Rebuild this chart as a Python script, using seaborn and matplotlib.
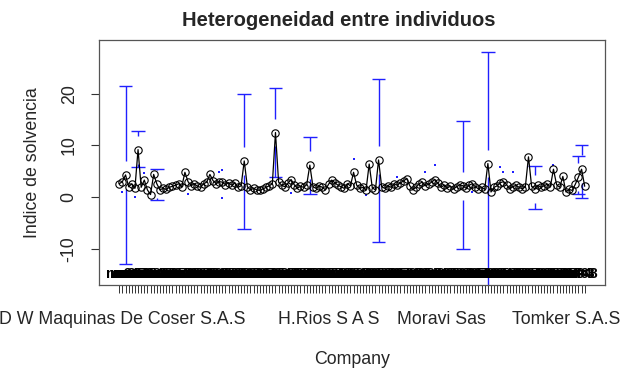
import matplotlib
matplotlib.use("Agg")
import matplotlib.pyplot as plt
import seaborn as sns
import numpy as np
import pandas as pd

# ---- data ----
means = [2.6, 3.0, 4.3, 2.0, 2.6, 1.7, 9.2, 1.9, 3.3, 1.4,
         0.5, 4.4, 2.6, 1.4, 1.7, 1.5, 1.9, 2.1, 2.3, 2.6,
         2.0, 4.8, 3.0, 2.2, 2.6, 2.1, 1.9, 2.6, 2.9, 4.4,
         3.2, 2.6, 3.0, 2.9, 2.4, 2.8, 2.3, 2.7, 1.9, 2.2,
         7.0, 2.0, 1.4, 1.7, 1.4, 1.3, 1.6, 1.9, 2.2, 2.6,
         12.5, 2.9, 2.3, 2.0, 2.7, 3.4, 2.4, 1.7, 2.1, 1.9,
         2.4, 6.2, 2.0, 1.7, 2.2, 1.9, 1.4, 2.5, 3.3, 2.8,
         2.3, 2.0, 1.7, 2.6, 2.2, 4.8, 2.3, 1.7, 1.9, 1.4,
         6.4, 1.8, 1.4, 7.2, 2.0, 1.7, 2.2, 1.9, 2.6, 2.3,
         2.8, 3.1, 3.6, 2.2, 1.4, 1.9, 2.6, 2.9, 2.2, 2.5,
         2.9, 3.4, 2.7, 1.9, 2.3, 1.8, 2.1, 1.6, 2.0, 2.4,
         2.2, 1.7, 2.3, 2.6, 2.0, 1.6, 1.9, 1.5, 6.5, 1.0,
         1.9, 2.2, 2.8, 3.0, 2.4, 1.6, 2.0, 2.3, 1.9, 1.6,
         2.0, 7.8, 2.1, 1.6, 2.3, 1.9, 2.2, 2.5, 2.0, 5.4,
         2.4, 1.9, 4.0, 1.0, 1.5, 1.3, 2.5, 3.9, 5.4, 2.1]

ns = [6, 3, 4, 9, 5, 7, 3, 8, 5, 6, 4, 3, 5, 9, 7, 8, 6, 5, 4, 7,
      8, 3, 5, 6, 9, 7, 8, 5, 6, 3, 4, 7, 8, 5, 6, 9, 7, 5, 8, 6,
      3, 7, 9, 8, 6, 5, 7, 8, 6, 5, 3, 4, 6, 7, 9, 5, 8, 7, 6, 5,
      9, 3, 7, 8, 6, 5, 9, 7, 4, 8, 6, 7, 9, 5, 8, 4, 7, 6, 8, 9,
      3, 5, 9, 3, 7, 8, 6, 9, 5, 7, 6, 8, 4, 7, 9, 6, 5, 8, 4, 7,
      6, 4, 8, 9, 7, 5, 8, 9, 6, 7, 3, 8, 6, 5, 7, 9, 8, 6, 3, 9,
      7, 5, 4, 8, 7, 9, 5, 6, 8, 9, 7, 4, 8, 3, 6, 7, 9, 5, 8, 7,
      6, 8, 5, 4, 7, 9, 6, 4, 3, 8]

ci_group = [3, 7, 13, 41, 51, 62, 84, 111, 119, 134, 148, 149]
ci_lower = [-13.0, 5.9, -0.5, -6.1, 3.8, 0.7, -8.7, -10.1, -32.0, -2.2, 0.6, -0.2]
ci_upper = [21.5, 12.7, 5.5, 19.9, 21.1, 11.6, 22.8, 14.8, 28.0, 6.0, 7.9, 10.1]

dot_group = [2, 9, 6, 33, 34, 34, 23, 76, 80, 90, 99, 56, 102, 123, 127, 124, 140, 114]
dot_value = [1.0, 4.6, 0.1, 4.9, 5.2, -0.2, 0.7, 7.3, 0.4, 3.8, 4.8, 0.8, 6.2, 5.9, 4.8, 4.8, 6.2, 1.0]

label_group = [2, 68, 104, 144]
label_text = ["D W Maquinas De Coser S.A.S", "H.Rios S A S", "Moravi Sas", "Tomker S.A.S"]
yticks = [-10, 0, 10, 20]

title = "Heterogeneidad entre individuos"
xlabel = "Company"
ylabel = "Indice de solvencia"

# ---- styling ----
sns.set_style("ticks")
plt.rcParams['font.family'] = ['Liberation Sans', 'DejaVu Sans']

W, H = 621, 371
fig = plt.figure(figsize=(W / 100, H / 100), dpi=100)
ax = fig.add_axes([99 / W, 1 - 285 / H, 506 / W, 245 / H])

groups = np.arange(1, len(means) + 1)
df = pd.DataFrame({"group": groups, "mean": means, "n": ns})

blue = "#2020ff"
gap = 2.7
cap = 2.2
for g, lo, hi in zip(ci_group, ci_lower, ci_upper):
    m = means[g - 1]
    if hi - m > gap:
        ax.vlines(g, m + gap, hi, color=blue, lw=1.0, zorder=2)
    if m - lo > gap:
        ax.vlines(g, lo, m - gap, color=blue, lw=1.0, zorder=2)
    ax.hlines([lo, hi], g - cap, g + cap, color=blue, lw=1.0, zorder=2)

ax.scatter(dot_group, dot_value, s=1.5, color=blue, marker="s", linewidths=0, zorder=2)

sns.lineplot(data=df, x="group", y="mean", ax=ax, color="black", lw=0.9,
             marker="o", markersize=5.3, markerfacecolor="none",
             markeredgecolor="black", markeredgewidth=0.8, zorder=3)

xt = ax.get_xaxis_transform()
for g, n in zip(groups, ns):
    ax.text(g, 0.043, f"n={n}", transform=xt, ha="center", va="center",
            fontsize=10.5, fontweight="bold", color="black", zorder=4, clip_on=False)

ax.set_xlim(-5.5, 156.5)
ax.set_ylim(-17.0, 30.4)

ax.set_xticks(groups)
lab = [""] * len(groups)
for g, t in zip(label_group, label_text):
    lab[g - 1] = t
ax.set_xticklabels(lab, fontsize=12.8)
ax.set_yticks(yticks)
ax.set_yticklabels([str(v) for v in yticks], fontsize=12.8, rotation=90, va="center")
ax.tick_params(axis="x", length=5.8, width=0.7, color="#333333", pad=13)
ax.tick_params(axis="y", length=5.8, width=0.8, color="#333333", pad=9.5)

for s in ax.spines.values():
    s.set_color("#555555")
    s.set_linewidth(0.9)
    s.set_visible(True)

ax.set_xlabel(xlabel, fontsize=12.8)
ax.set_ylabel(ylabel, fontsize=12.8)
ax.xaxis.set_label_coords(0.5, -0.27)
ax.yaxis.set_label_coords(-0.115, 0.5)
fig.text(339 / W, 1 - 21 / H, title, fontsize=14.5, fontweight="bold",
         ha="center", va="center")

fig.savefig("out.png", dpi=100, facecolor="white")
